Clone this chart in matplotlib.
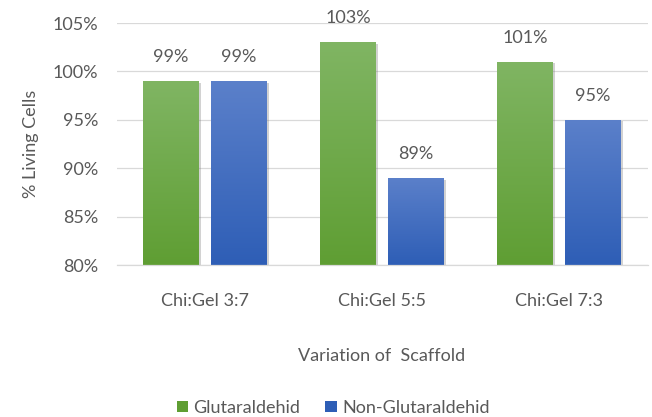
import numpy as np
import matplotlib.pyplot as plt
from matplotlib.colors import LinearSegmentedColormap
from matplotlib.patches import Patch
import matplotlib.patheffects as pe

CATEGORIES = ["Chi:Gel 3:7", "Chi:Gel 5:5", "Chi:Gel 7:3"]
GLUTARALDEHID = [99, 103, 101]
NON_GLUTARALDEHID = [99, 89, 95]
SERIES_NAMES = ["Glutaraldehid", "Non-Glutaraldehid"]

GREEN = ("#80B563", "#5F9E33")  # top, bottom
BLUE = ("#5B80CA", "#2E5EB6")
TEXT = "#595959"
FS = 13

plt.rcParams["font.family"] = ["Lato", "DejaVu Sans"]


def gradient_bars(ax, bars, colors):
    cmap = LinearSegmentedColormap.from_list("g", [colors[1], colors[0]])
    grad = np.linspace(0, 1, 256).reshape(-1, 1)
    for bar in bars:
        x, y = bar.get_x(), bar.get_y()
        w, h = bar.get_width(), bar.get_height()
        bar.set_facecolor("none")
        bar.set_edgecolor("none")
        bar.set_path_effects([pe.SimplePatchShadow(offset=(1.2, -1.2), shadow_rgbFace="#808080", alpha=0.35)])
        im = ax.imshow(grad, cmap=cmap, aspect="auto", origin="lower",
                       extent=[x, x + w, y, y + h], zorder=2.5)
        im.set_clip_path(bar)


fig = plt.figure(figsize=(6.52, 4.17), dpi=100)
ax = fig.add_axes([116.5 / 652, 1 - 265 / 417, 531 / 652, 242 / 417])

x = np.arange(len(CATEGORIES))
width = 0.316
offset = 0.192
base = 80

b1 = ax.bar(x - offset, np.array(GLUTARALDEHID) - base, width, bottom=base, zorder=2)
b2 = ax.bar(x + offset, np.array(NON_GLUTARALDEHID) - base, width, bottom=base, zorder=2)
gradient_bars(ax, b1, GREEN)
gradient_bars(ax, b2, BLUE)

for xi, v in zip(x - offset, GLUTARALDEHID):
    ax.text(xi, v + 1.65, f"{v}%", ha="center", va="bottom", fontsize=FS, color=TEXT)
for xi, v in zip(x + offset, NON_GLUTARALDEHID):
    ax.text(xi, v + 1.65, f"{v}%", ha="center", va="bottom", fontsize=FS, color=TEXT)

ax.set_xlim(-0.5, 2.5)
ax.set_ylim(80, 105)
ax.set_yticks(np.arange(80, 106, 5))
ax.set_yticklabels([f"{t}%" for t in range(80, 106, 5)])
ax.set_xticks(x)
ax.set_xticklabels(CATEGORIES)
ax.tick_params(axis="both", length=0, colors=TEXT, labelsize=FS)
ax.tick_params(axis="x", pad=20)
ax.tick_params(axis="y", pad=13)
ax.grid(axis="y", color="#D9D9D9", linewidth=0.9, zorder=0)
ax.set_axisbelow(True)
for s in ["top", "right", "left"]:
    ax.spines[s].set_visible(False)
ax.spines["bottom"].set_color("#D9D9D9")
ax.spines["bottom"].set_linewidth(0.9)

ax.set_ylabel("% Living Cells", fontsize=FS, color=TEXT, labelpad=10)
ax.set_xlabel("Variation of  Scaffold", fontsize=FS, color=TEXT, labelpad=28)

handles = [Patch(facecolor=GREEN[1]), Patch(facecolor=BLUE[1])]
fig.legend(handles, SERIES_NAMES, loc="center", bbox_to_anchor=(333 / 652, 1 - 408 / 417),
           ncol=2, frameon=False, fontsize=FS, labelcolor=TEXT,
           handlelength=0.62, handleheight=0.62, handletextpad=0.3, columnspacing=1.4)

fig.savefig("out.png", dpi=100)
